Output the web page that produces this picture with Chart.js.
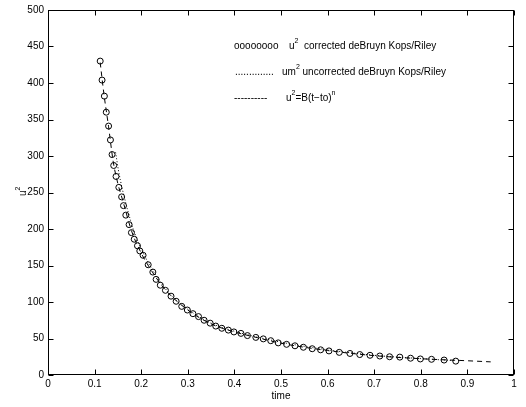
<!DOCTYPE html>
<html>
<head>
<meta charset="utf-8">
<script src="https://cdn.jsdelivr.net/npm/chart.js@4/dist/chart.umd.min.js"></script>
<style>
  html, body { margin: 0; padding: 0; background: #fff; }
  #wrap { width: 526px; height: 407px; }
</style>
</head>
<body>
<div id="wrap"><canvas id="chart" width="526" height="407"></canvas></div>
<script>
// ── Data ──────────────────────────────────────────────────────────────────────

const FONT = '"Liberation Sans", Arial, Helvetica, sans-serif';

// u^2 corrected deBruyn Kops/Riley (circles)
const tCorrected = [0.112, 0.116, 0.121, 0.125, 0.130, 0.134, 0.1375, 0.141, 0.146, 0.152,
                    0.158, 0.162, 0.167, 0.174, 0.179, 0.185, 0.192, 0.197, 0.204, 0.215,
                    0.225, 0.232, 0.241, 0.252, 0.264, 0.275, 0.287, 0.299, 0.311, 0.323,
                    0.335, 0.348, 0.360, 0.373, 0.387, 0.399, 0.414, 0.428, 0.446, 0.462,
                    0.478, 0.494, 0.512, 0.530, 0.548, 0.567, 0.585, 0.603, 0.625, 0.648,
                    0.669, 0.691, 0.712, 0.733, 0.755, 0.778, 0.799, 0.823, 0.850, 0.875];
const uCorrected = [430, 404, 382, 360, 341, 322, 302, 287, 272, 257,
                    244, 232, 219, 206, 195, 186, 177, 170, 164, 151,
                    141, 131, 123, 116, 108, 101, 94, 89, 84, 80,
                    75, 71, 67, 64, 61.5, 59, 57, 54, 51.5, 49.5,
                    47, 44, 42, 40, 38, 36, 34.5, 33, 31, 29.5,
                    28, 27, 26, 25, 24.5, 23, 22, 21.5, 20.5, 19];

// um^2 uncorrected deBruyn Kops/Riley (dotted)
const tUncorrected = [0.145, 0.148, 0.151, 0.155, 0.159, 0.164, 0.170, 0.177, 0.185, 0.195,
                      0.21, 0.23, 0.26, 0.30, 0.35, 0.40, 0.50, 0.60, 0.70, 0.80, 0.875];
const uUncorrected = [305, 293, 281, 268, 256, 243, 228, 212, 196, 180,
                      160, 138, 112, 90, 71, 60, 45, 34.5, 27, 22.5, 19.5];

// u^2 = B(t-to)^n (dashed)
const tFit = [0.112, 0.12, 0.13, 0.14, 0.15, 0.16, 0.18, 0.20, 0.22, 0.25,
              0.30, 0.35, 0.40, 0.45, 0.50, 0.60, 0.70, 0.80, 0.90, 0.95];
const uFit = [428, 385, 340, 292, 262, 240, 196, 167, 145, 118,
              89, 70, 59, 51, 43.5, 33.5, 26.5, 22.3, 19.5, 18];

const xTicks = [0, 0.1, 0.2, 0.3, 0.4, 0.5, 0.6, 0.7, 0.8, 0.9, 1];
const yTicks = [0, 50, 100, 150, 200, 250, 300, 350, 400, 450, 500];

const xTitle = 'time';

const zip = (xs, ys) => xs.map((x, i) => ({ x, y: ys[i] }));

// ── Helpers ───────────────────────────────────────────────────────────────────

// draws text pieces, some as superscripts; returns the end x
function drawRich(ctx, x, y, parts) {
  ctx.textBaseline = 'middle';
  ctx.textAlign = 'left';
  for (const p of parts) {
    if (p.sup) {
      ctx.font = `7px ${FONT}`;
      ctx.fillText(p.text, x, y - 5);
    } else {
      ctx.font = `10px ${FONT}`;
      ctx.fillText(p.text, x, y);
    }
    x += ctx.measureText(p.text).width;
  }
  return x;
}

// ── Frame, ticks, titles and legend ──────────────────────────────────────────

const framePlugin = {
  id: 'frame',
  afterDraw(chart) {
    const { ctx, chartArea: a, scales } = chart;
    const L = Math.round(a.left) + 0.5, R = Math.round(a.right) - 0.5;
    const T = Math.round(a.top) + 0.5,  B = Math.round(a.bottom) - 0.5;
    const tick = 5;

    ctx.save();
    ctx.strokeStyle = '#000';
    ctx.lineWidth = 1;
    ctx.setLineDash([]);
    ctx.strokeRect(L, T, R - L, B - T);

    ctx.beginPath();
    xTicks.forEach(v => {
      const px = Math.round(scales.x.getPixelForValue(v)) + 0.5;
      ctx.moveTo(px, B); ctx.lineTo(px, B - tick);
      ctx.moveTo(px, T); ctx.lineTo(px, T + tick);
    });
    yTicks.forEach(v => {
      const py = Math.round(scales.y.getPixelForValue(v)) + 0.5;
      ctx.moveTo(L, py); ctx.lineTo(L + tick, py);
      ctx.moveTo(R, py); ctx.lineTo(R - tick, py);
    });
    ctx.stroke();

    ctx.fillStyle = '#000';

    // x title
    ctx.font = `10px ${FONT}`;
    ctx.textAlign = 'center';
    ctx.textBaseline = 'middle';
    ctx.fillText(xTitle, (a.left + a.right) / 2, 396);

    // y title u^2 (rotated)
    ctx.save();
    ctx.translate(23, 191);
    ctx.rotate(-Math.PI / 2);
    drawRich(ctx, -5, 0, [{ text: 'u' }, { text: '2', sup: true }]);
    ctx.restore();

    // legend (symbols are typed as text, like the original)
    drawRich(ctx, 234, 46, [{ text: 'oooooooo' }]);
    drawRich(ctx, 289, 46, [{ text: 'u' }, { text: '2', sup: true }]);
    drawRich(ctx, 304, 46, [{ text: 'corrected deBruyn Kops/Riley' }]);
    drawRich(ctx, 235, 72, [{ text: '..............' }]);
    drawRich(ctx, 282, 72, [{ text: 'um' }, { text: '2', sup: true },
                            { text: ' uncorrected deBruyn Kops/Riley' }]);
    drawRich(ctx, 234, 98, [{ text: '----------' }]);
    drawRich(ctx, 286, 98, [{ text: 'u' }, { text: '2', sup: true },
                            { text: '=B(t\u2212to)' }, { text: 'n', sup: true }]);
    ctx.restore();
  },
};

// ── Chart ─────────────────────────────────────────────────────────────────────

const tickFont = { family: FONT, size: 10 };

new Chart(document.getElementById('chart'), {
  type: 'scatter',
  data: {
    datasets: [
      {
        label: 'u2=B(t-to)^n',
        data: zip(tFit, uFit),
        showLine: true,
        borderColor: '#000',
        borderWidth: 1,
        borderDash: [5, 4],
        pointRadius: 0,
        cubicInterpolationMode: 'monotone',
      },
      {
        label: 'um2 uncorrected deBruyn Kops/Riley',
        data: zip(tUncorrected, uUncorrected),
        showLine: true,
        borderColor: '#000',
        borderWidth: 1,
        borderDash: [1, 2],
        pointRadius: 0,
        cubicInterpolationMode: 'monotone',
      },
      {
        label: 'u2 corrected deBruyn Kops/Riley',
        data: zip(tCorrected, uCorrected),
        showLine: false,
        pointStyle: 'circle',
        pointRadius: 3,
        borderColor: '#000',
        borderWidth: 1,
        backgroundColor: 'rgba(0,0,0,0)',
      },
    ],
  },
  options: {
    responsive: false,
    animation: false,
    devicePixelRatio: 1,
    layout: { padding: { left: 0, right: 12, top: 6, bottom: 0 } },
    plugins: {
      legend: { display: false },
      tooltip: { enabled: false },
    },
    scales: {
      x: {
        type: 'linear',
        min: 0,
        max: 1,
        grid: { display: false, drawTicks: false },
        border: { display: false },
        afterBuildTicks: s => { s.ticks = xTicks.map(v => ({ value: v })); },
        afterFit: s => { s.height = 32; },
        ticks: {
          color: '#000',
          font: tickFont,
          padding: 3,
          maxRotation: 0,
          callback: v => String(v),
        },
      },
      y: {
        type: 'linear',
        min: 0,
        max: 500,
        grid: { display: false, drawTicks: false },
        border: { display: false },
        afterBuildTicks: s => { s.ticks = yTicks.map(v => ({ value: v })); },
        afterFit: s => { s.width = 48; },
        ticks: {
          color: '#000',
          font: tickFont,
          padding: 4,
          callback: v => String(v),
        },
      },
    },
  },
  plugins: [framePlugin],
});
</script>
</body>
</html>
